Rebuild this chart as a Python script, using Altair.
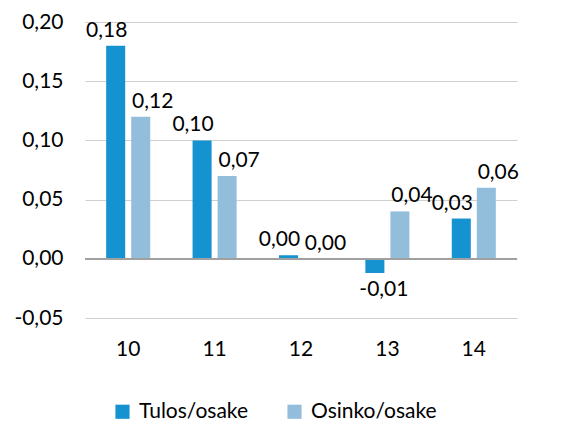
import altair as alt
import pandas as pd

years = ["10", "11", "12", "13", "14"]
series = ["Tulos/osake", "Osinko/osake"]
tulos = [0.18, 0.10, 0.003, -0.012, 0.034]
osinko = [0.12, 0.07, 0.0, 0.04, 0.06]
colors = ["#1592d0", "#92bedc"]
y_ticks = [-0.05, 0.0, 0.05, 0.10, 0.15, 0.20]

rows = []
for i, yr in enumerate(years):
    rows.append({"year": yr, "series": series[0], "value": tulos[i]})
    rows.append({"year": yr, "series": series[1], "value": osinko[i]})
df = pd.DataFrame(rows)

FONT = "Lato"
FS = 21
fmt = "replace(replace(format(datum.value, '.2f'), '.', ','), '\u2212', '-')"

x = alt.X("year:N", sort=years,
          scale=alt.Scale(paddingInner=0.49, paddingOuter=0.245),
          axis=alt.Axis(title=None, labelAngle=0, ticks=False, domain=False,
                        labelFontSize=FS, labelPadding=20, labelColor="#000",
                        labelFont=FONT))
xoff = alt.XOffset("series:N", sort=series,
                   scale=alt.Scale(domain=series, paddingInner=0.24, paddingOuter=0))
y = alt.Y("value:Q", scale=alt.Scale(domain=[-0.05, 0.20], nice=False, zero=False),
          axis=alt.Axis(title=None, values=y_ticks, labelExpr=fmt, grid=True,
                        gridColor="#d0d0d0", gridWidth=1.2, domain=False, ticks=False,
                        labelFontSize=FS, labelPadding=22, labelColor="#000",
                        labelFont=FONT))

base = alt.Chart(df).transform_calculate(
    label="replace(replace(format(datum.value, '.2f'), '.', ','), '\u2212', '-')"
)

bars = base.mark_bar().encode(
    x=x, xOffset=xoff, y=y,
    color=alt.Color("series:N", sort=series,
                    scale=alt.Scale(domain=series, range=colors),
                    legend=alt.Legend(title=None, orient="none", legendX=27, legendY=379,
                                      direction="horizontal", symbolType="square",
                                      symbolSize=200, symbolStrokeWidth=0,
                                      labelFontSize=FS, labelFont=FONT, labelColor="#000",
                                      columnPadding=36, labelOffset=6, labelLimit=300)),
)

zero = base.mark_rule(color="#a0a0a0", strokeWidth=1.5).encode(y=alt.datum(0))

def labels(name, cond, baseline, dx, dy):
    return base.transform_filter(
        f"datum.series == '{name}' && {cond}"
    ).mark_text(
        baseline=baseline, dx=dx, dy=dy, fontSize=FS, font=FONT, color="#000"
    ).encode(x=x, xOffset=xoff, y=y, text="label:N")

layers = [
    bars, zero,
    labels(series[0], "datum.value >= 0", "bottom", -9, -5),
    labels(series[1], "datum.value >= 0", "bottom", 12, -5),
    labels(series[0], "datum.value < 0", "top", 9, 6),
    labels(series[1], "datum.value < 0", "top", 12, 6),
]

chart = alt.layer(*layers).properties(
    width=432, height=296,
    autosize=alt.AutoSizeParams(type="none"),
    padding={"left": 77, "top": 14, "right": 36, "bottom": 106},
).configure_view(stroke=None)

chart.save("out.html", embed_options={"renderer": "svg", "actions": False})
